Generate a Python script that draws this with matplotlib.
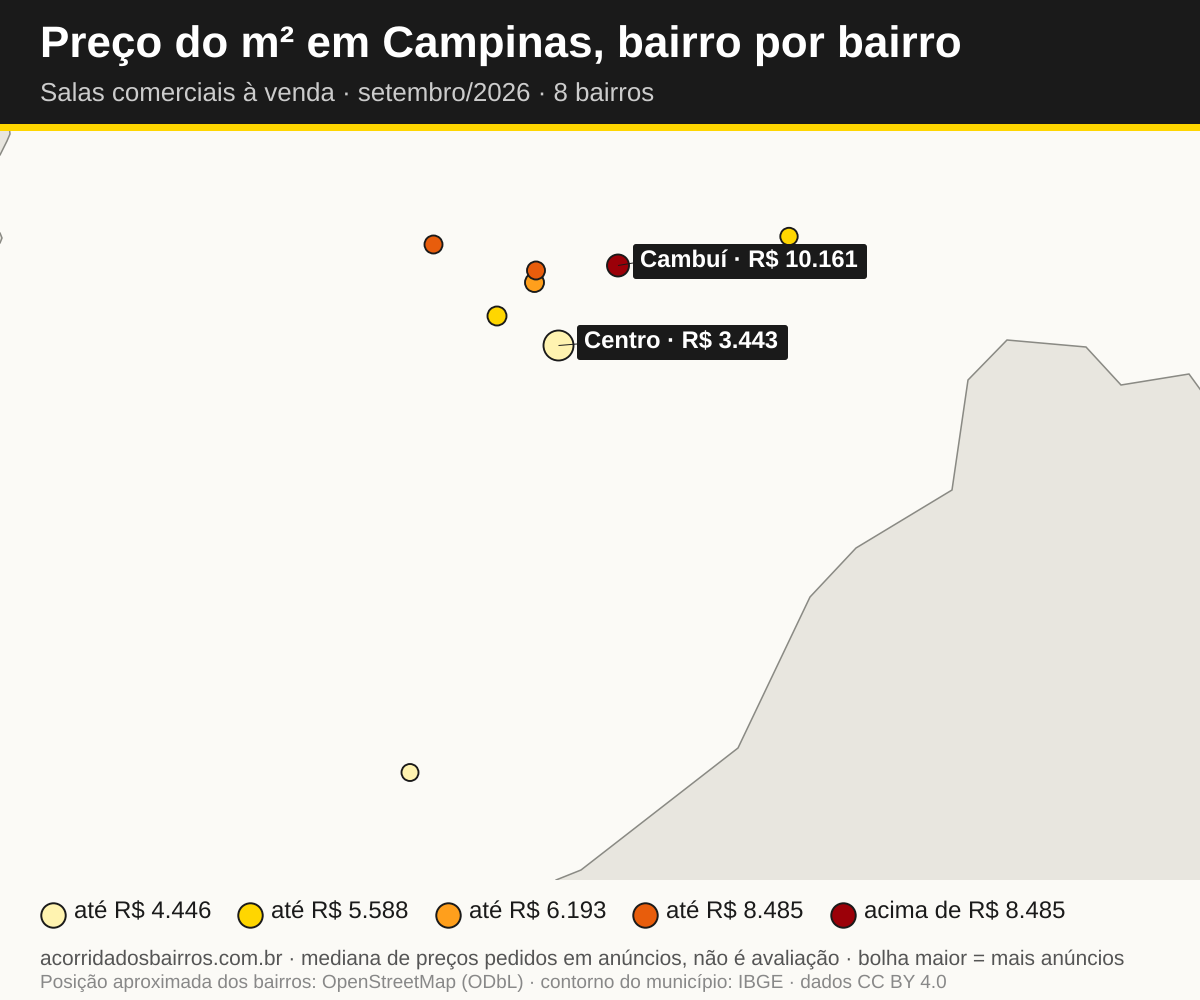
import matplotlib
matplotlib.use("Agg")
import matplotlib.pyplot as plt
from matplotlib.patches import Rectangle, Polygon, FancyBboxPatch
from matplotlib.lines import Line2D

plt.rcParams['font.family'] = ['Liberation Sans', 'DejaVu Sans']
plt.rcParams['text.hinting'] = 'no_hinting'

W, H = 1200, 1000
BG = '#FBFAF6'; DARK = '#1A1A1A'; YELLOW = '#FFD600'

title = 'Preço do m² em Campinas, bairro por bairro'
subtitle = 'Salas comerciais à venda · setembro/2026 · 8 bairros'
footer1 = 'acorridadosbairros.com.br · mediana de preços pedidos em anúncios, não é avaliação · bolha maior = mais anúncios'
footer2 = 'Posição aproximada dos bairros: OpenStreetMap (ODbL) · contorno do município: IBGE · dados CC BY 4.0'

# bubbles, in map position
bubble_x = [558.5, 410, 497, 789, 534.5, 433.5, 536, 618]
bubble_y = [345.5, 772.5, 316, 236.5, 282.5, 244.5, 270.5, 265.5]
bubble_r = [15, 8.5, 9.5, 8.7, 9.5, 9, 9, 11]
bubble_class = [0, 0, 1, 1, 2, 3, 3, 4]

class_colors = ['#FFF3B0', '#FFD600', '#FF9F1C', '#E85D0C', '#9B0008']
class_labels = ['até R$ 4.446', 'até R$ 5.588', 'até R$ 6.193', 'até R$ 8.485', 'acima de R$ 8.485']
legend_x = [53, 250, 448, 645, 843]
legend_tx = [74, 271, 469, 666, 864]

# municipal outline
outline_x = [556, 581, 738, 810, 856, 952, 968, 1007, 1086, 1121, 1189, 1205, 1205, 556]
outline_y = [880, 870, 748, 597, 548, 490, 380, 340, 347, 385, 374, 396, 885, 885]
corner_x = [-5, 9, 10, 7, 0, -5]
corner_y = [125, 125, 134, 141, 155, 155]
nub_x = [-5, 0, 2, 0, -5]
nub_y = [232, 233, 238, 243, 244]

labels = ['Cambuí · R$ 10.161', 'Centro · R$ 3.443']
label_src = [7, 0]
label_x = [640, 584.5]
label_y = [261, 342]
box_x = [633, 577]
box_y = [244, 325]
box_w = [234, 211]
box_h = [35, 35]

fig = plt.figure(figsize=(12, 10), dpi=100, facecolor=BG)
ax = fig.add_axes([0, 0, 1, 1])
ax.set_xlim(0, W); ax.set_ylim(H, 0); ax.axis('off')

clip = Rectangle((0, 131), W, 749, transform=ax.transData, fc='none', ec='none')
ax.add_patch(clip)
for xs, ys in [(outline_x, outline_y), (corner_x, corner_y), (nub_x, nub_y)]:
    p = Polygon(list(zip(xs, ys)), closed=True, fc='#E8E6DF', ec='#8A8A84', lw=1.1, zorder=2)
    ax.add_patch(p)
    p.set_clip_path(clip)

ax.add_patch(Rectangle((0, 0), W, 124, fc=DARK, ec='none', zorder=5))
ax.add_patch(Rectangle((0, 124), W, 7, fc=YELLOW, ec='none', zorder=5))
ax.text(40, 46, title, color='white', fontsize=31.7, fontweight='bold', va='center', ha='left', zorder=6)
ax.text(40, 94, subtitle, color='#CCCCCC', fontsize=18.6, va='center', ha='left', zorder=6)

px2pt = 72 / 100
sizes = [(2 * r * px2pt) ** 2 for r in bubble_r]
cols = [class_colors[c] for c in bubble_class]
ax.scatter(bubble_x, bubble_y, s=sizes, c=cols, edgecolors=DARK, linewidths=1.35, zorder=3)

for t, i, tx, ty, bx, by, bw, bh in zip(labels, label_src, label_x, label_y, box_x, box_y, box_w, box_h):
    ax.add_patch(FancyBboxPatch((bx + 3, by + 3), bw - 6, bh - 6, boxstyle='round,pad=3,rounding_size=3',
                                fc=DARK, ec='none', zorder=3.5))
    ax.plot([bubble_x[i], bx], [bubble_y[i], by + 19], color=DARK, lw=0.7, zorder=3.6, solid_capstyle='butt')
    ax.text(tx, ty, t, color='white', fontsize=17.15, fontweight='bold', va='center', ha='left', zorder=4)

for c, lab, lx, tx in zip(class_colors, class_labels, legend_x, legend_tx):
    ax.add_line(Line2D([lx], [915], marker='o', ms=17.6, mfc=c, mec=DARK, mew=1.4, ls='none', zorder=4))
    ax.text(tx, 912, lab, color=DARK, fontsize=17.3, va='center', ha='left', zorder=4)

ax.text(40, 959, footer1, color='#555555', fontsize=15.06, va='center', ha='left')
ax.text(40, 984, footer2, color='#888888', fontsize=13.66, va='center', ha='left')

fig.savefig('out.png', dpi=100, facecolor=BG)
